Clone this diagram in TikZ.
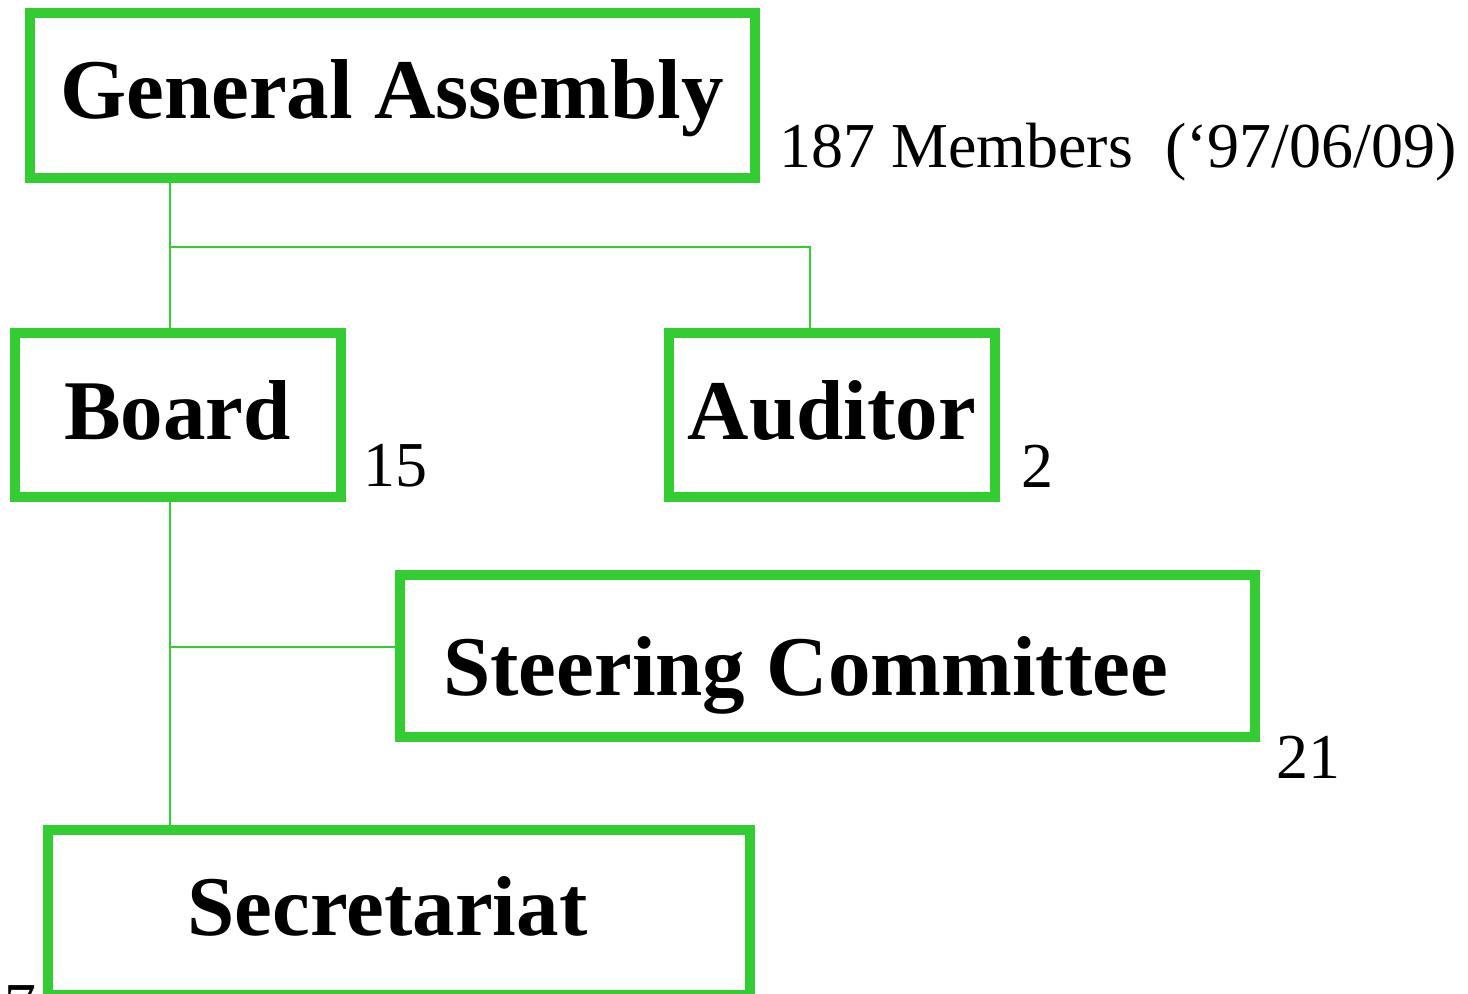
\documentclass[tikz,border=0pt]{standalone}
\usepackage{fontspec}
\setmainfont{Liberation Serif}
\definecolor{boxgreen}{RGB}{51,204,51}
\tikzset{
  orgbox/.style={draw=boxgreen, line width=5pt, fill=white, rectangle, inner sep=0pt},
  boxtext/.style={anchor=base, inner sep=0pt, font=\fontsize{42.5}{50}\selectfont\bfseries},
  countlabel/.style={anchor=base west, inner sep=0pt, font=\fontsize{32}{38}\selectfont},
  link/.style={draw=boxgreen, line width=1pt}
}
\begin{document}
\begin{tikzpicture}[x=0.5pt,y=0.5pt,yscale=-1,xscale=1]
	\useasboundingbox (0,0) rectangle (1468,994);

	% Box
	\node[orgbox, minimum width=362.5pt, minimum height=82.5pt] (ga) at (392.5,95.5) {};
	% Box
	\node[orgbox, minimum width=163pt, minimum height=82pt] (bd) at (178,415) {};
	% Box
	\node[orgbox, minimum width=163pt, minimum height=82pt] (au) at (832,415) {};
	% Box
	\node[orgbox, minimum width=427.5pt, minimum height=81pt] (st) at (827.5,656) {};
	% Box
	\node[orgbox, minimum width=351pt, minimum height=82.5pt] (sc) at (399,912.5) {};

	% Text Node
	\node[boxtext] (gatext) at (392,119) {General Assembly};
	% Text Node
	\node[boxtext] (bdtext) at (177.5,440) {Board};
	% Text Node
	\node[boxtext] (autext) at (832,440) {Auditor};
	% Text Node
	\node[boxtext] (sttext) at (805.5,695) {Steering Committee};
	% Text Node
	\node[boxtext] (sctext) at (387.5,935) {Secretariat};

	% Text Node
	\node[countlabel] (gacount) at (779,168) {187 Members\ \ (‘97/06/09)};
	% Text Node
	\node[countlabel] (bdcount) at (363,487) {15};
	% Text Node
	\node[countlabel] (aucount) at (1021,488) {2};
	% Text Node
	\node[countlabel] (stcount) at (1276,778) {21};
	% Text Node
	\node[countlabel] (sccount) at (-28,1027) {27};

	\coordinate (trunk) at (170,247);
	% Connection
	\draw[link] (ga.south -| trunk) -- (bd.north -| trunk);
	% Connection
	\draw[link] (trunk) -| ([xshift=-11pt]au.north);
	% Connection
	\draw[link] (bd.south -| trunk) -- (sc.north -| trunk);
	% Connection
	\draw[link] ([yshift=-4.5pt]st.west) -- ([yshift=-4.5pt]st.west -| trunk);

\end{tikzpicture}
\end{document}
